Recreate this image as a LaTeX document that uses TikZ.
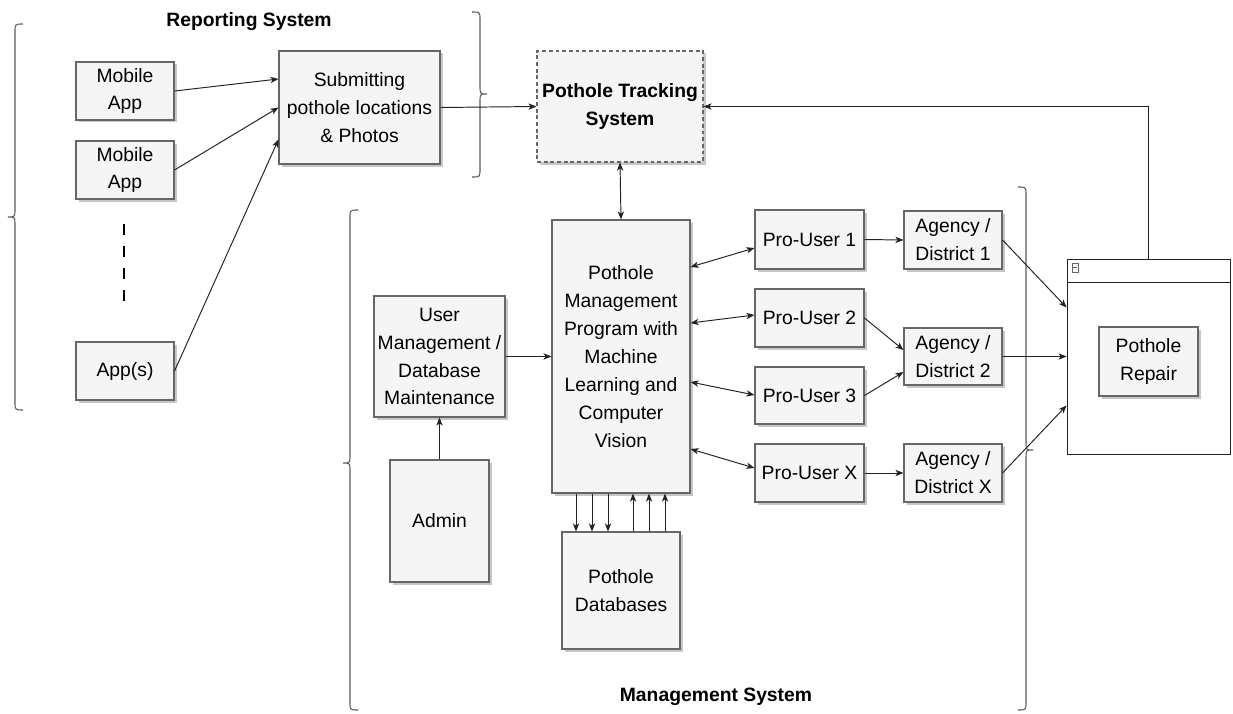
\documentclass[tikz,border=0pt]{standalone}
\usepackage{fontspec}
\setmainfont{Liberation Sans}
\usetikzlibrary{arrows.meta,shadows,calc}
\definecolor{boxfill}{HTML}{F5F5F5}
\definecolor{boxline}{HTML}{666666}
\definecolor{wire}{HTML}{222222}
\tikzset{
  box/.style={draw=boxline, fill=boxfill, line width=0.6pt, align=center, inner sep=1pt,
    font=\fontsize{11}{15.9}\selectfont,
    drop shadow={shadow xshift=0.05cm, shadow yshift=-0.05cm, fill=black, opacity=0.22}},
  arr/.style={draw=wire, line width=0.55pt, -{Stealth[length=4.6pt,width=3.6pt,inset=1.3pt]}},
  darr/.style={draw=wire, line width=0.55pt,
    {Stealth[length=4.6pt,width=3.6pt,inset=1.3pt]}-{Stealth[length=4.6pt,width=3.6pt,inset=1.3pt]}},
  brace/.style={draw=black!65, line width=0.6pt},
  title/.style={font=\bfseries\fontsize{11}{14}\selectfont}
}
% box by corners: [style] name, x1, y1, x2, y2, text
\newcommand\placebox[7][]{%
  \node[box,#1, minimum width={(#5-#3)*0.02cm}, minimum height={(#6-#4)*0.02cm}]
    (#2) at ({(#3+#5)/2},{(#4+#6)/2}) {#7};}
\begin{document}
\begin{tikzpicture}[x=0.02cm, y=-0.02cm]
\useasboundingbox (0,0) rectangle (1233,713);

% ---- titles
\node[title] (reptitle) at (249,22) {Reporting System};
\node[title] (mgmttitle) at (716,697) {Management System};

% ---- braces
\draw[brace] (23,24) .. controls (15,24) .. (15,32) -- (15,209)
  .. controls (15,217) .. (8,217) .. controls (15,217) .. (15,225)
  -- (15,402) .. controls (15,410) .. (23,410);
\draw[brace] (472,12) .. controls (480,12) .. (480,20) -- (480,86)
  .. controls (480,94) .. (487,94) .. controls (480,94) .. (480,102)
  -- (480,169) .. controls (480,177) .. (472,177);
\draw[brace] (358,210) .. controls (350,210) .. (350,218) -- (350,455)
  .. controls (350,463) .. (343,463) .. controls (350,463) .. (350,471)
  -- (350,702) .. controls (350,710) .. (358,710);
\draw[brace] (1018,187) .. controls (1026,187) .. (1026,195) -- (1026,442)
  .. controls (1026,450) .. (1033,450) .. controls (1026,450) .. (1026,458)
  -- (1026,702) .. controls (1026,710) .. (1018,710);

% ---- reporting side
\placebox{m1}{76}{62}{174}{120}{Mobile\\App}
\placebox{m2}{76}{141}{174}{199}{Mobile\\App}
\placebox{apps}{76}{342}{174}{400}{App(s)}
\placebox{sub}{279}{51}{440}{164}{Submitting\\pothole locations\\\& Photos}
\placebox[dash pattern=on 2.2pt off 1.6pt, font=\bfseries\fontsize{11}{15.9}\selectfont]{pts}{537}{51}{703}{162}{Pothole Tracking\\System}

\coordinate (dtop) at (124,224);
\coordinate (dbot) at (124,302);
\draw[line width=1.7pt, dash pattern=on 0.22cm off 0.22cm] (dtop) -- (dbot);

% ---- management side
\placebox{prog}{552}{220}{690}{493}{Pothole\\Management\\Program with\\Machine\\Learning and\\Computer\\Vision}
\placebox{um}{374}{296}{505}{417}{User\\Management /\\Database\\Maintenance}
\placebox{admin}{390}{460}{489}{582}{Admin}
\placebox{db}{562}{532}{680}{649}{Pothole\\Databases}
\placebox{pu1}{755}{210}{864}{269}{Pro-User 1}
\placebox{pu2}{755}{289}{864}{347}{Pro-User 2}
\placebox{pu3}{755}{367}{864}{424}{Pro-User 3}
\placebox{pux}{755}{444}{864}{502}{Pro-User X}
\placebox{ag1}{904}{211}{1002}{269}{Agency /\\District 1}
\placebox{ag2}{904}{328}{1002}{385}{Agency /\\District 2}
\placebox{agx}{904}{444}{1002}{502}{Agency /\\District X}

% ---- repair window
\node[draw=wire, fill=white, line width=0.5pt, minimum width={163*0.02cm}, minimum height={195*0.02cm}]
  (repwin) at (1148.5,356.5) {};
\draw[wire, line width=0.5pt] (repwin.west |- 0,282) -- (repwin.east |- 0,282);
\draw[boxline, fill=boxfill, line width=0.4pt] (1072,263) rectangle (1078,272);
\draw[boxline, line width=0.4pt] (1073.3,267.5) -- (1076.7,267.5);
\placebox{repair}{1099}{327}{1198}{396}{Pothole\\Repair}

% ---- connectors
\draw[arr] (m1.east) -- ($(sub.north west)!0.25!(sub.south west)$);
\draw[arr] (m2.east) -- (sub.west);
\draw[arr] (apps.east) -- ($(sub.north west)!0.78!(sub.south west)$);
\draw[arr] (sub.east) -- (pts.west);
\draw[arr] (repwin.north) |- (pts.east);
\draw[darr] (pts.south) -- (prog.north);
\draw[arr] (um.east) -- (prog.west |- um.east);
\draw[arr] (admin.north) -- (um.south);
\foreach \xx in {576,592,608}
  \draw[arr] (prog.south -| \xx,0) -- (db.north -| \xx,0);
\foreach \xx in {633,649,665}
  \draw[arr] (db.north -| \xx,0) -- (prog.south -| \xx,0);

\draw[darr] (prog.east |- 0,267) -- (pu1.west |- 0,248);
\draw[darr] (prog.east |- 0,323) -- (pu2.west |- 0,315);
\draw[darr] (prog.east |- 0,382) -- (pu3.west |- 0,395);
\draw[darr] (prog.east |- 0,449) -- (pux.west |- 0,468);

\draw[arr] (pu1.east) -- (ag1.west);
\draw[arr] (pu2.east) -- (ag2.west |- 0,350);
\draw[arr] (pu3.east) -- (ag2.west |- 0,372);
\draw[arr] (pux.east) -- (agx.west);

\draw[arr] (ag1.east) -- ($(repwin.north west)!0.25!(repwin.south west)$);
\draw[arr] (ag2.east) -- (repwin.west);
\draw[arr] (agx.east) -- ($(repwin.north west)!0.75!(repwin.south west)$);
\end{tikzpicture}
\end{document}
